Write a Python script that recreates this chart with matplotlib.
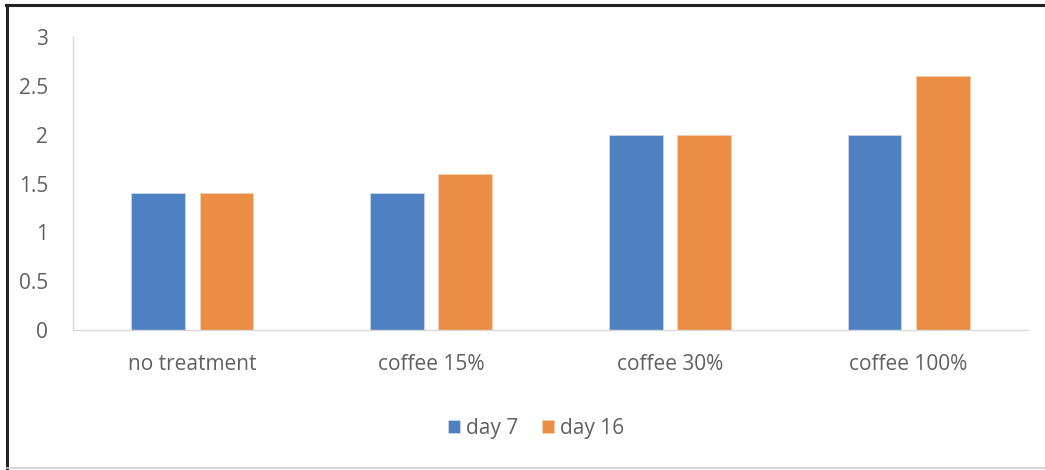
import numpy as np
import matplotlib.pyplot as plt
from matplotlib.lines import Line2D

categories = ['no treatment', 'coffee 15%', 'coffee 30%', 'coffee 100%']
day7 = [1.4, 1.4, 2.0, 2.0]
day16 = [1.4, 1.6, 2.0, 2.6]
yticks = [0, 0.5, 1, 1.5, 2, 2.5, 3]
ytick_labels = ['0', '0.5', '1', '1.5', '2', '2.5', '3']

plt.rcParams['font.family'] = ['Open Sans', 'DejaVu Sans']
text_color = '#606060'
blue = '#4F80C2'
orange = '#EB8D44'

fig = plt.figure(figsize=(10.45, 4.7), dpi=100)
ax = fig.add_axes([0.0699, 0.298, 0.9138, 0.623])

x = np.arange(len(categories))
w = 0.225
ax.bar(x - 0.143, day7, w, color=blue, label='day 7', edgecolor='#C9D6EC', linewidth=0.6)
ax.bar(x + 0.143, day16, w, color=orange, label='day 16', edgecolor='#F6CFAE', linewidth=0.6)

ax.set_xlim(-0.5, len(categories) - 0.5)
ax.set_ylim(0, 3)
ax.set_yticks(yticks)
ax.set_yticklabels(ytick_labels)
ax.set_xticks(x)
ax.set_xticklabels(categories)
ax.tick_params(axis='both', length=0, labelsize=15, colors=text_color)
ax.tick_params(axis='y', pad=18)
ax.tick_params(axis='x', pad=17)

for s in ['top', 'right']:
    ax.spines[s].set_visible(False)
ax.spines['left'].set_color('#D9D9D9')
ax.spines['bottom'].set_color('#D9D9D9')
ax.spines['left'].set_linewidth(1)
ax.spines['bottom'].set_linewidth(1)

leg = fig.legend(loc='center', bbox_to_anchor=(0.513, 0.088), ncol=2, frameon=False,
                 fontsize=15, handlelength=0.6, handleheight=0.6, handletextpad=0.3,
                 columnspacing=1.1)
for t in leg.get_texts():
    t.set_color(text_color)

# outer frame
fig.add_artist(Line2D([0.007, 0.007], [0.0, 0.99], transform=fig.transFigure, color='#222222', lw=2.2))
fig.add_artist(Line2D([0.006, 1.0], [0.989, 0.989], transform=fig.transFigure, color='#222222', lw=2.2))
fig.add_artist(Line2D([0.007, 1.0], [0.004, 0.004], transform=fig.transFigure, color='#D0D0D0', lw=1.2))

fig.savefig('out.png', dpi=100)
